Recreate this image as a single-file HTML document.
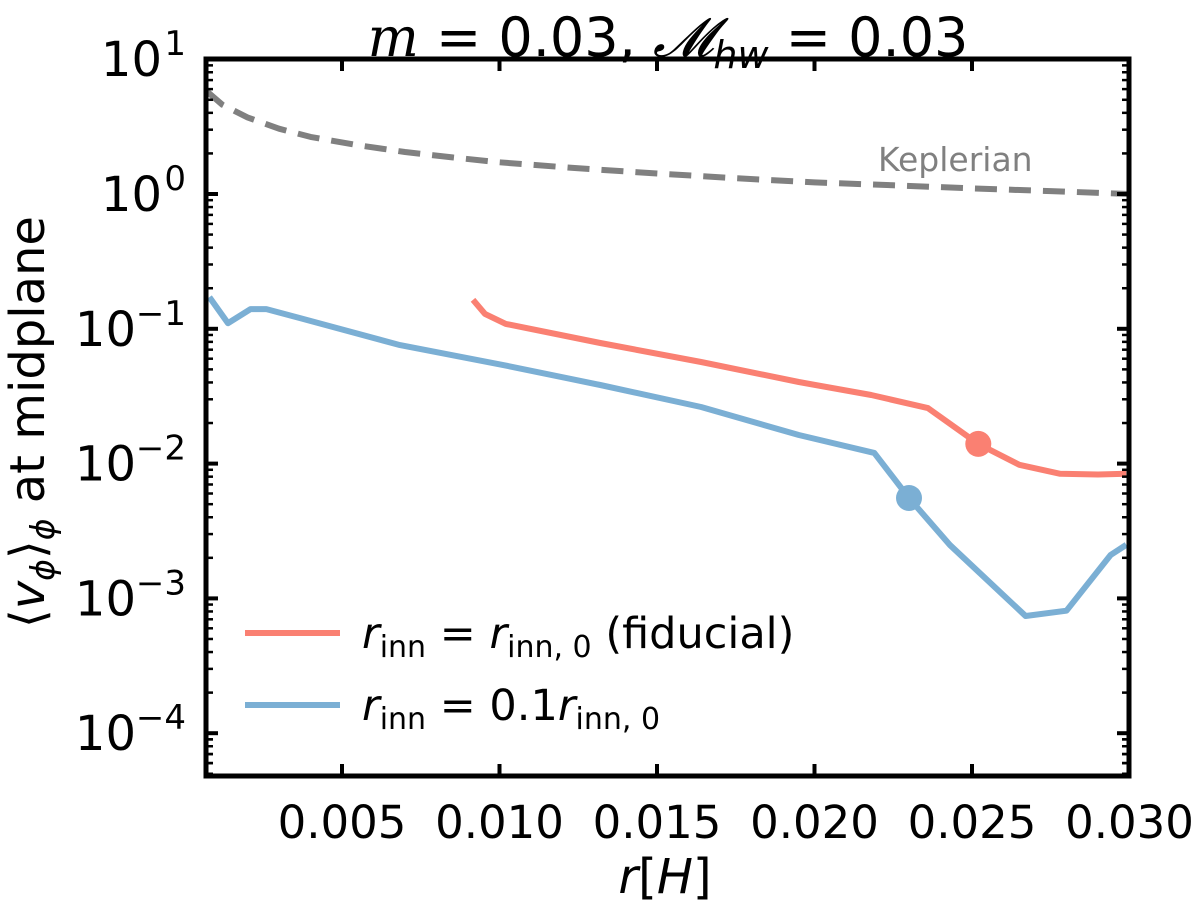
<!DOCTYPE html>
<html><head><meta charset="utf-8"><style>
body{margin:0;background:#fff;}
svg{display:block;font-family:"DejaVu Sans","Liberation Sans",sans-serif;}
</style></head><body>
<svg id="chart" width="1200" height="907" viewBox="0 0 1200 907">
<g id="marks"></g>
<g id="axes"></g>
<text x="668" y="56" text-anchor="middle" font-size="54"><tspan font-style="italic" font-family="DejaVu Serif,serif">m</tspan> = 0.03,  <tspan font-style="italic" font-family="DejaVu Serif,serif">𝓜</tspan><tspan font-size="38" dy="12" font-style="italic">hw</tspan><tspan dy="-12"> = 0.03</tspan></text>
<text x="665" y="893" text-anchor="middle" font-size="48"><tspan font-style="italic">r</tspan>[<tspan font-style="italic">H</tspan>]</text>
<text transform="translate(44,422) rotate(-90)" text-anchor="middle" font-size="48">⟨<tspan font-style="italic">v</tspan><tspan font-size="33" dy="10" font-style="italic">ϕ</tspan><tspan dy="-10">⟩</tspan><tspan font-size="33" dy="10" font-style="italic">ϕ</tspan><tspan dy="-10"> at midplane</tspan></text>
<text x="878" y="171" font-size="33" fill="#808080">Keplerian</text>
<g>
<line x1="245" y1="633" x2="340" y2="633" stroke="#fa8072" stroke-width="6"/>
<text x="362" y="648" font-size="43"><tspan font-style="italic">r</tspan><tspan font-size="30" dy="9">inn</tspan><tspan dy="-9"> = </tspan><tspan font-style="italic">r</tspan><tspan font-size="30" dy="9">inn, 0</tspan><tspan dy="-9"> (fiducial)</tspan></text>
<line x1="245" y1="705" x2="340" y2="705" stroke="#7bafd4" stroke-width="6"/>
<text x="362" y="720" font-size="43"><tspan font-style="italic">r</tspan><tspan font-size="30" dy="9">inn</tspan><tspan dy="-9"> = 0.1</tspan><tspan font-style="italic">r</tspan><tspan font-size="30" dy="9">inn, 0</tspan></text>
</g>
</svg>
<script>
const kepR=[0.0007,0.0012,0.002,0.003,0.004,0.0055,0.007,0.0085,0.01,0.0125,0.015,0.0175,0.02,0.0225,0.025,0.0275,0.03];
const kepV=[5.8,4.6,3.7,3.05,2.65,2.3,2.05,1.87,1.72,1.55,1.42,1.31,1.22,1.16,1.1,1.05,1.0];
const blueR=[0.00079,0.00138,0.0021,0.0026,0.00367,0.00684,0.0101,0.0132,0.0164,0.0195,0.0219,0.023,0.0243,0.0267,0.0280,0.0294,0.0299];
const blueV=[0.172,0.110,0.140,0.140,0.120,0.0757,0.054,0.0383,0.0263,0.0163,0.012,0.00556,0.00249,0.00074,0.00081,0.0021,0.0025];
const redR=[0.00916,0.00954,0.0102,0.0132,0.0164,0.0195,0.0218,0.0236,0.0252,0.0265,0.0278,0.0290,0.0299];
const redV=[0.164,0.129,0.1087,0.0785,0.0567,0.0403,0.0323,0.0258,0.0140,0.0098,0.0084,0.0083,0.0084];
const blueDot=[0.0230,0.00556];
const redDot=[0.0252,0.0140];
const xTicks=[0.005,0.010,0.015,0.020,0.025,0.030];
const xTickLabels=["0.005","0.010","0.015","0.020","0.025","0.030"];
const yExps=[1,0,-1,-2,-3,-4];

const L=206,R=1129,T=59,B=776;
const X=v=>342+(v-0.005)*31500;
const Y=v=>194-Math.log10(v)*134.8;
const NS="http://www.w3.org/2000/svg";
const marks=document.getElementById('marks'),axes=document.getElementById('axes');
function mk(p,tag,at){const e=document.createElementNS(NS,tag);for(const k in at)e.setAttribute(k,at[k]);p.appendChild(e);return e;}
function line(rs,vs,color,dash,name){
  const d=rs.map((r,i)=>(i?'L':'M')+X(r).toFixed(1)+','+Y(vs[i]).toFixed(1)).join('');
  const p=mk(marks,'path',{d:d,fill:'none',stroke:color,'stroke-width':6,'stroke-linejoin':'round'});
  if(dash)p.setAttribute('stroke-dasharray',dash);
  
  
}
line(kepR,kepV,'#808080','22,12','keplerian-line');
line(redR,redV,'#fa8072',null,'fiducial-line');
line(blueR,blueV,'#7bafd4',null,'small-rinn-line');
const c1=mk(marks,'circle',{cx:X(redDot[0]),cy:Y(redDot[1]),r:13,fill:'#fa8072'});


const c2=mk(marks,'circle',{cx:X(blueDot[0]),cy:Y(blueDot[1]),r:13,fill:'#7bafd4'});


const fr=mk(axes,'rect',{x:L,y:T,width:R-L,height:B-T,fill:'none',stroke:'#000','stroke-width':5});


xTicks.forEach((v,i)=>{
  const x=X(v);
  mk(axes,'line',{x1:x,y1:B,x2:x,y2:B-12,stroke:'#000','stroke-width':4});
  mk(axes,'line',{x1:x,y1:T,x2:x,y2:T+12,stroke:'#000','stroke-width':4});
  const t=mk(axes,'text',{x:x,y:838,'text-anchor':'middle','font-size':45});
  t.textContent=xTickLabels[i];
  
  
});
function minor(ym){
  if(ym<T||ym>B)return;
  mk(axes,'line',{x1:L,y1:ym,x2:L+7,y2:ym,stroke:'#000','stroke-width':2.5});
  mk(axes,'line',{x1:R,y1:ym,x2:R-7,y2:ym,stroke:'#000','stroke-width':2.5});
}
yExps.forEach(e=>{
  const y=Y(Math.pow(10,e));
  mk(axes,'line',{x1:L,y1:y,x2:L+12,y2:y,stroke:'#000','stroke-width':4});
  mk(axes,'line',{x1:R,y1:y,x2:R-12,y2:y,stroke:'#000','stroke-width':4});
  for(let k=2;k<=9;k++)minor(Y(k*Math.pow(10,e-1)));
  const sup=mk(axes,'text',{x:186,y:y-4,'text-anchor':'end','font-size':34});
  sup.textContent=e<0?'\u2212'+(-e):''+e;
  
  
  const w=e<0?48:22;
  const t=mk(axes,'text',{x:186-w-2,y:y+17,'text-anchor':'end','font-size':48});
  t.textContent='10';
  
  
});
for(let k=9;k>=5;k--)minor(Y(k*1e-5));
</script>
</body></html>
